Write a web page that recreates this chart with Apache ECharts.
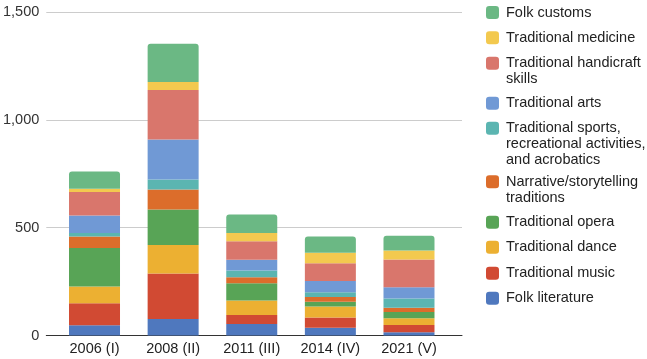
<!DOCTYPE html>
<html>
<head>
<meta charset="utf-8">
<script src="https://cdn.jsdelivr.net/npm/echarts@6/dist/echarts.min.js"></script>
<style>
html,body{margin:0;padding:0;background:#fff;}
#chart{width:647px;height:359px;}
</style>
</head>
<body>
<div id="chart"></div>
<script>
// ---- data ----
const categories = ['2006 (I)', '2008 (II)', '2011 (III)', '2014 (IV)', '2021 (V)'];
const seriesNames = [
  'Folk literature', 'Traditional music', 'Traditional dance', 'Traditional opera',
  'Narrative/storytelling traditions', 'Traditional sports, recreational activities, and acrobatics',
  'Traditional arts', 'Traditional handicraft skills', 'Traditional medicine', 'Folk customs'
];
const folkLiterature   = [47, 77, 53, 36, 15];
const traditionalMusic = [103, 210, 42, 48, 34];
const traditionalDance = [77, 133, 67, 50, 31];
const traditionalOpera = [179, 164, 80, 23, 29];
const narrative        = [53, 93, 28, 22, 20];
const sports           = [16, 46, 31, 22, 42];
const traditionalArts  = [81, 186, 50, 52, 53];
const handicraft       = [109, 229, 86, 82, 128];
const medicine         = [15, 38, 38, 49, 42];
const folkCustoms      = [80, 177, 86, 75, 69];
const yTicks = [0, 500, 1000, 1500];
// wrapped legend texts (display only)
const legendLines = {
  'Traditional handicraft skills': ['Traditional handicraft', 'skills'],
  'Traditional sports, recreational activities, and acrobatics': ['Traditional sports,', 'recreational activities,', 'and acrobatics'],
  'Narrative/storytelling traditions': ['Narrative/storytelling', 'traditions']
};

// ---- styles / layout ----
const colors = ['#4f78be', '#d14a33', '#ecb032', '#58a456', '#dc6d2b', '#5bb5b1', '#7099d5', '#d9766c', '#f3c94f', '#6bb884'];
const allValues = [folkLiterature, traditionalMusic, traditionalDance, traditionalOpera, narrative, sports, traditionalArts, handicraft, medicine, folkCustoms];
const FONT = "'Liberation Sans', Arial, sans-serif";
const FS = 14.5;
const legendFirstLineY = {  // first-line centre y of each legend entry (layout)
  'Folk customs': 12.5, 'Traditional medicine': 37.7, 'Traditional handicraft skills': 63.3,
  'Traditional arts': 103.3, 'Traditional sports, recreational activities, and acrobatics': 128.3,
  'Narrative/storytelling traditions': 181.7, 'Traditional opera': 222.3, 'Traditional dance': 247.3,
  'Traditional music': 273.3, 'Folk literature': 298.3
};
const LINE_H = 16;
const TOP = 12, BOTTOM = 23.5;

const series = seriesNames.map((name, k) => ({
  name: name,
  type: 'bar',
  stack: 'total',
  xAxisIndex: 1,
  yAxisIndex: 1,
  barWidth: 51,
  color: colors[k],
  itemStyle: k === seriesNames.length - 1 ? { borderRadius: [3, 3, 0, 0] } : {},
  data: allValues[k]
}));

const legends = seriesNames.map((name) => {
  const lines = legendLines[name] || [name];
  const n = lines.length;
  const text = '\n'.repeat(n - 1) + lines.join('\n');
  return {
    data: [name],
    orient: 'vertical',
    left: 486,
    top: legendFirstLineY[name] - (2 * n - 1) * LINE_H / 2,
    padding: 0,
    itemWidth: 13,
    itemHeight: 13,
    icon: 'roundRect',
    formatter: () => text,
    selectedMode: false,
    textStyle: { fontFamily: FONT, fontSize: FS, color: '#222', lineHeight: LINE_H, padding: [0, 0, 0, 2] }
  };
});

const yScale = { min: yTicks[0], max: yTicks[yTicks.length - 1], interval: yTicks[1] - yTicks[0] };

const chart = echarts.init(document.getElementById('chart'), null, { renderer: 'canvas' });
chart.setOption({
  animation: false,
  backgroundColor: '#fff',
  textStyle: { fontFamily: FONT },
  grid: [
    { left: 42, right: 185, top: TOP, bottom: BOTTOM },        // frame: gridlines + baseline
    { left: 55.2, right: 198.7, top: TOP, bottom: BOTTOM }     // bars
  ],
  xAxis: [
    {
      gridIndex: 0, type: 'value', min: 0, max: 1,
      splitLine: { show: false }, axisTick: { show: false }, axisLabel: { show: false },
      axisLine: { show: true, lineStyle: { color: '#333', width: 1 } }
    },
    {
      gridIndex: 1, type: 'category', data: categories,
      axisLine: { show: false }, axisTick: { show: false },
      axisLabel: { fontFamily: FONT, fontSize: FS, color: '#222', margin: 6 }
    }
  ],
  yAxis: [
    Object.assign({
      gridIndex: 0, type: 'value',
      axisLine: { show: false }, axisTick: { show: false },
      splitLine: { lineStyle: { color: '#cccccc', width: 1 } },
      axisLabel: { fontFamily: FONT, fontSize: FS, color: '#333', margin: 7 }
    }, yScale),
    Object.assign({
      gridIndex: 1, type: 'value', show: false, splitLine: { show: false }
    }, yScale)
  ],
  legend: legends,
  series: series
});
</script>
</body>
</html>
